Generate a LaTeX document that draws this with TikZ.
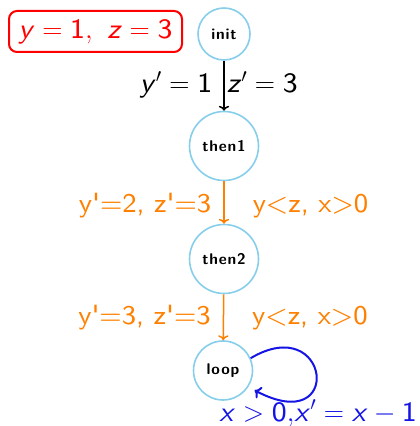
\RequirePackage{fix-cm}
\documentclass[tikz,border=0pt]{standalone}
\usepackage{fontspec}
\setsansfont{lmsans8-regular}[Extension=.otf, ItalicFont=lmsans8-oblique, BoldFont=lmsans10-bold, BoldItalicFont=lmsans10-boldoblique]
\newfontfamily\statefont{lmsans10-bold}[Extension=.otf, LetterSpace=5]
\usetikzlibrary{arrows.meta}
\definecolor{circ}{RGB}{135,206,235}
\definecolor{orng}{RGB}{255,128,0}
\definecolor{blu}{RGB}{20,20,230}
\newcommand{\mv}[1]{\mbox{\sffamily\itshape #1\/}}
\newcommand{\ms}[1]{\mbox{\sffamily #1}}
\newcommand{\pq}{\textquotesingle}
\begin{document}
\begin{tikzpicture}[x=1pt,y=1pt,
  state/.style={circle, draw=circ, line width=1.6pt, fill=white, inner sep=0pt,
    font=\fontsize{15.5}{18}\selectfont\statefont},
  blackarrow/.style={draw=black, line width=1.5pt, ->},
  orangearrow/.style={draw=orng, line width=1.5pt, ->},
  biglabel/.style={font=\fontsize{28}{33}\selectfont\sffamily, inner sep=0pt},
  orlabel/.style={font=\fontsize{27}{32}\selectfont\sffamily, text=orng, inner sep=0pt},
  bluelabel/.style={font=\fontsize{28}{33}\selectfont\sffamily, text=blu, inner sep=0pt}]
\useasboundingbox (0,0) rectangle (420,426);
\node[state, minimum size=52pt] (init) at (224,392) {init};
\node[state, minimum size=69pt] (then1) at (224,280) {then1};
\node[state, minimum size=69pt] (then2) at (224,167) {then2};
\node[state, minimum size=59pt] (loop) at (223,55.5) {loop};
\node[draw=red, line width=2pt, rounded corners=8pt, minimum width=173pt,
  minimum height=41pt, text=red, font=\fontsize{28}{33}\selectfont\sffamily, inner sep=0pt]
  (initval) at (95.5,394.5) {$\mv{y} = \ms{1},\ \mv{z} = \ms{3}$};
\draw[blackarrow] (init) --
  node[biglabel, anchor=base east, xshift=-11pt, yshift=-7pt] {$\mv{y}' = \ms{1}$}
  node[biglabel, anchor=base west, xshift=2pt, yshift=-7pt] {$\mv{z}' = \ms{3}$} (then1);
\draw[orangearrow] (then1) --
  node[orlabel, anchor=base east, xshift=-12pt, yshift=-10pt] {y\pq{}=2, z\pq{}=3}
  node[orlabel, anchor=base west, xshift=28pt, yshift=-10pt] {y<z, x>0} (then2);
\draw[orangearrow] (then2) --
  node[orlabel, anchor=base east, xshift=-12pt, yshift=-7pt] {y\pq{}=3, z\pq{}=3}
  node[orlabel, anchor=base west, xshift=28pt, yshift=-7pt] {y<z, x>0} (loop);
\draw[draw=blu, line width=2pt, ->, shorten >=7pt] (loop.24) .. controls (330,115) and (345,-12) .. (loop.-33);
\node[bluelabel, anchor=base east] (looplabel) at (417,5)
  {$\mv{x} > \ms{0}{,}\mv{x}' = \mv{x} - \ms{1}$};
\end{tikzpicture}
\end{document}
